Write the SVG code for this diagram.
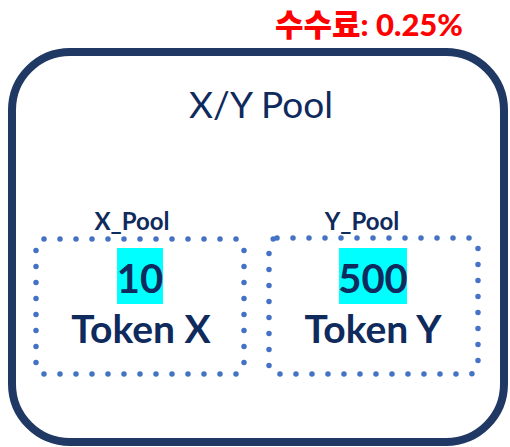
<svg xmlns="http://www.w3.org/2000/svg" width="510" height="447" viewBox="0 0 510 447">
<style>
.navy{fill:#0f2a5c;font-family:Lato,"Open Sans",sans-serif}
.b{font-weight:bold}
.dot{fill:none;stroke:#4472c4;stroke-width:5.5;stroke-linecap:round;stroke-dasharray:0 16}
.hl{fill:#00ffff}
</style>
<rect width="510" height="447" fill="#ffffff"/>
<g id="fee">
<text x="369" y="36" text-anchor="middle" font-family="Lato,'Noto Sans CJK KR',sans-serif" font-weight="900" font-size="31" fill="#ff0000">수수료: 0.25%</text>
</g>
<g id="xy-pool">
<rect x="12" y="52" width="492" height="390" rx="58" ry="58" fill="none" stroke="#1f3864" stroke-width="8"/>
<text class="navy" x="261" y="118" text-anchor="middle" font-size="37">X/Y Pool</text>
</g>
<g id="x-pool">
<text class="navy b" x="132" y="230" text-anchor="middle" font-size="24">X_Pool</text>
<rect class="dot" x="36" y="239" width="208" height="135" rx="8"/>
<rect class="hl" x="117" y="248" width="46" height="56"/>
<text class="navy b" x="140" y="293" text-anchor="middle" font-size="40">10</text>
<text class="navy b" x="141" y="343" text-anchor="middle" font-size="39">Token X</text>
</g>
<g id="y-pool">
<text class="navy b" x="362" y="230" text-anchor="middle" font-size="24">Y_Pool</text>
<rect class="dot" x="269" y="238" width="209" height="136" rx="8"/>
<rect class="hl" x="339" y="248" width="68" height="56"/>
<text class="navy b" x="373" y="293" text-anchor="middle" font-size="40">500</text>
<text class="navy b" x="373" y="343" text-anchor="middle" font-size="39">Token Y</text>
</g>
<g id="connectors"/>
</svg>
